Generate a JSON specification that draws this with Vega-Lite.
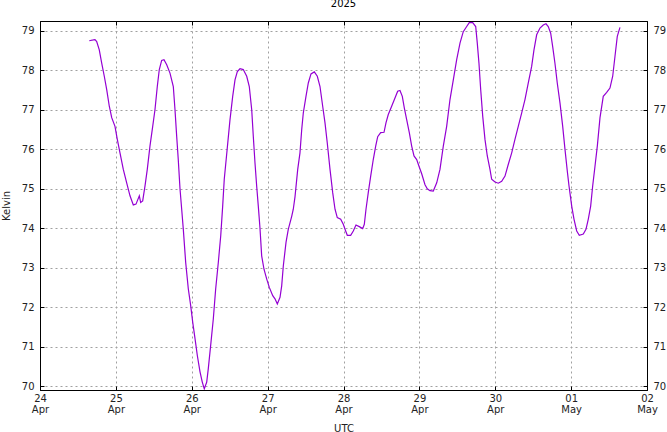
{
  "$schema": "https://vega.github.io/schema/vega-lite/v6.json",
  "width": 607,
  "height": 369,
  "autosize": {"type": "none"},
  "padding": {"left": 40, "top": 21, "right": 20, "bottom": 42},
  "background": "white",
  "title": {"text": "2025", "fontSize": 10, "font": "DejaVu Sans", "fontWeight": "normal", "color": "#000000", "offset": 12, "anchor": "middle"},
  "config": {
    "view": {"stroke": "#000000", "strokeWidth": 1},
    "font": "DejaVu Sans",
    "axis": {"labelFont": "DejaVu Sans", "labelFontSize": 10, "labelColor": "#222222", "titleFont": "DejaVu Sans", "titleFontSize": 10, "titleFontWeight": "normal", "titleColor": "#222222", "domainColor": "#000000", "tickColor": "#000000", "gridColor": "#a0a0a0", "gridDash": [2, 3], "gridWidth": 1, "gridOpacity": 1}
  },
  "data": {"values": [
    {"t": "2025-04-24T15:35Z", "k": 78.75}, {"t": "2025-04-24T16:52Z", "k": 78.77}, {"t": "2025-04-24T17:24Z", "k": 78.78}, {"t": "2025-04-24T17:56Z", "k": 78.73},
    {"t": "2025-04-24T18:45Z", "k": 78.52}, {"t": "2025-04-24T19:31Z", "k": 78.18}, {"t": "2025-04-24T20:20Z", "k": 77.85}, {"t": "2025-04-24T21:06Z", "k": 77.51},
    {"t": "2025-04-24T21:55Z", "k": 77.09}, {"t": "2025-04-24T22:41Z", "k": 76.8}, {"t": "2025-04-24T23:43Z", "k": 76.58}, {"t": "2025-04-25T00:27Z", "k": 76.25},
    {"t": "2025-04-25T01:18Z", "k": 75.91}, {"t": "2025-04-25T02:21Z", "k": 75.49}, {"t": "2025-04-25T03:25Z", "k": 75.15}, {"t": "2025-04-25T04:28Z", "k": 74.82},
    {"t": "2025-04-25T05:31Z", "k": 74.59}, {"t": "2025-04-25T06:22Z", "k": 74.61}, {"t": "2025-04-25T07:25Z", "k": 74.82}, {"t": "2025-04-25T07:51Z", "k": 74.65},
    {"t": "2025-04-25T08:29Z", "k": 74.69}, {"t": "2025-04-25T09:13Z", "k": 75.07}, {"t": "2025-04-25T09:56Z", "k": 75.49}, {"t": "2025-04-25T10:47Z", "k": 76.08},
    {"t": "2025-04-25T11:39Z", "k": 76.58}, {"t": "2025-04-25T12:22Z", "k": 77.0}, {"t": "2025-04-25T13:06Z", "k": 77.59}, {"t": "2025-04-25T13:44Z", "k": 78.02},
    {"t": "2025-04-25T14:29Z", "k": 78.25}, {"t": "2025-04-25T15:13Z", "k": 78.27}, {"t": "2025-04-25T16:05Z", "k": 78.14}, {"t": "2025-04-25T17:07Z", "k": 77.93},
    {"t": "2025-04-25T18:10Z", "k": 77.59}, {"t": "2025-04-25T18:42Z", "k": 77.0}, {"t": "2025-04-25T19:14Z", "k": 76.33}, {"t": "2025-04-25T19:44Z", "k": 75.74},
    {"t": "2025-04-25T20:17Z", "k": 75.0}, {"t": "2025-04-25T20:49Z", "k": 74.48}, {"t": "2025-04-25T21:20Z", "k": 73.97}, {"t": "2025-04-25T22:05Z", "k": 73.13},
    {"t": "2025-04-25T22:55Z", "k": 72.46}, {"t": "2025-04-25T23:40Z", "k": 72.04}, {"t": "2025-04-26T00:18Z", "k": 71.62}, {"t": "2025-04-26T01:02Z", "k": 71.2},
    {"t": "2025-04-26T01:45Z", "k": 70.78}, {"t": "2025-04-26T02:37Z", "k": 70.36}, {"t": "2025-04-26T03:20Z", "k": 70.1}, {"t": "2025-04-26T03:58Z", "k": 69.93},
    {"t": "2025-04-26T04:44Z", "k": 70.1}, {"t": "2025-04-26T05:14Z", "k": 70.44}, {"t": "2025-04-26T05:59Z", "k": 71.03}, {"t": "2025-04-26T06:49Z", "k": 71.7},
    {"t": "2025-04-26T07:34Z", "k": 72.46}, {"t": "2025-04-26T08:24Z", "k": 73.13}, {"t": "2025-04-26T09:10Z", "k": 73.81}, {"t": "2025-04-26T09:47Z", "k": 74.56},
    {"t": "2025-04-26T10:17Z", "k": 75.24}, {"t": "2025-04-26T11:12Z", "k": 76.0}, {"t": "2025-04-26T12:06Z", "k": 76.75}, {"t": "2025-04-26T12:57Z", "k": 77.34},
    {"t": "2025-04-26T13:41Z", "k": 77.76}, {"t": "2025-04-26T14:25Z", "k": 77.97}, {"t": "2025-04-26T15:16Z", "k": 78.04}, {"t": "2025-04-26T16:18Z", "k": 78.02},
    {"t": "2025-04-26T17:23Z", "k": 77.85}, {"t": "2025-04-26T18:12Z", "k": 77.59}, {"t": "2025-04-26T18:58Z", "k": 77.0}, {"t": "2025-04-26T19:28Z", "k": 76.33},
    {"t": "2025-04-26T20:00Z", "k": 75.66}, {"t": "2025-04-26T20:32Z", "k": 75.07}, {"t": "2025-04-26T21:03Z", "k": 74.56}, {"t": "2025-04-26T21:35Z", "k": 74.0},
    {"t": "2025-04-26T22:07Z", "k": 73.3}, {"t": "2025-04-26T22:51Z", "k": 72.96}, {"t": "2025-04-26T23:43Z", "k": 72.71}, {"t": "2025-04-27T00:32Z", "k": 72.5},
    {"t": "2025-04-27T01:37Z", "k": 72.29}, {"t": "2025-04-27T02:20Z", "k": 72.21}, {"t": "2025-04-27T03:04Z", "k": 72.08}, {"t": "2025-04-27T03:55Z", "k": 72.25},
    {"t": "2025-04-27T04:27Z", "k": 72.54}, {"t": "2025-04-27T04:58Z", "k": 73.05}, {"t": "2025-04-27T05:49Z", "k": 73.64}, {"t": "2025-04-27T06:32Z", "k": 73.97},
    {"t": "2025-04-27T07:37Z", "k": 74.3}, {"t": "2025-04-27T08:07Z", "k": 74.48}, {"t": "2025-04-27T08:40Z", "k": 74.8}, {"t": "2025-04-27T09:31Z", "k": 75.49},
    {"t": "2025-04-27T10:14Z", "k": 75.91}, {"t": "2025-04-27T10:47Z", "k": 76.5}, {"t": "2025-04-27T11:17Z", "k": 76.92}, {"t": "2025-04-27T12:08Z", "k": 77.34},
    {"t": "2025-04-27T12:52Z", "k": 77.68}, {"t": "2025-04-27T13:43Z", "k": 77.91}, {"t": "2025-04-27T14:46Z", "k": 77.96}, {"t": "2025-04-27T15:43Z", "k": 77.85},
    {"t": "2025-04-27T16:34Z", "k": 77.59}, {"t": "2025-04-27T17:25Z", "k": 77.09}, {"t": "2025-04-27T18:09Z", "k": 76.67}, {"t": "2025-04-27T18:52Z", "k": 76.16},
    {"t": "2025-04-27T19:44Z", "k": 75.49}, {"t": "2025-04-27T20:35Z", "k": 74.9}, {"t": "2025-04-27T21:19Z", "k": 74.48}, {"t": "2025-04-27T22:02Z", "k": 74.27},
    {"t": "2025-04-27T23:07Z", "k": 74.23}, {"t": "2025-04-27T23:56Z", "k": 74.1}, {"t": "2025-04-28T00:41Z", "k": 73.93}, {"t": "2025-04-28T01:12Z", "k": 73.82},
    {"t": "2025-04-28T02:16Z", "k": 73.82}, {"t": "2025-04-28T03:06Z", "k": 73.93}, {"t": "2025-04-28T03:57Z", "k": 74.08}, {"t": "2025-04-28T04:59Z", "k": 74.04},
    {"t": "2025-04-28T06:04Z", "k": 73.99}, {"t": "2025-04-28T06:35Z", "k": 74.1}, {"t": "2025-04-28T07:07Z", "k": 74.48}, {"t": "2025-04-28T07:50Z", "k": 74.9},
    {"t": "2025-04-28T08:36Z", "k": 75.32}, {"t": "2025-04-28T09:25Z", "k": 75.74}, {"t": "2025-04-28T10:11Z", "k": 76.08}, {"t": "2025-04-28T10:49Z", "k": 76.32},
    {"t": "2025-04-28T11:46Z", "k": 76.42}, {"t": "2025-04-28T12:49Z", "k": 76.43}, {"t": "2025-04-28T13:26Z", "k": 76.67}, {"t": "2025-04-28T14:10Z", "k": 76.88},
    {"t": "2025-04-28T15:14Z", "k": 77.09}, {"t": "2025-04-28T16:17Z", "k": 77.3}, {"t": "2025-04-28T17:08Z", "k": 77.47}, {"t": "2025-04-28T17:52Z", "k": 77.49},
    {"t": "2025-04-28T18:36Z", "k": 77.34}, {"t": "2025-04-28T19:14Z", "k": 77.05}, {"t": "2025-04-28T19:59Z", "k": 76.75}, {"t": "2025-04-28T20:49Z", "k": 76.42},
    {"t": "2025-04-28T21:34Z", "k": 76.08}, {"t": "2025-04-28T22:18Z", "k": 75.83}, {"t": "2025-04-28T23:09Z", "k": 75.74}, {"t": "2025-04-28T23:58Z", "k": 75.55},
    {"t": "2025-04-29T00:44Z", "k": 75.38}, {"t": "2025-04-29T01:47Z", "k": 75.1}, {"t": "2025-04-29T02:30Z", "k": 75.0}, {"t": "2025-04-29T03:21Z", "k": 74.95},
    {"t": "2025-04-29T04:24Z", "k": 74.94}, {"t": "2025-04-29T05:29Z", "k": 75.15}, {"t": "2025-04-29T06:31Z", "k": 75.49}, {"t": "2025-04-29T07:34Z", "k": 76.08},
    {"t": "2025-04-29T08:38Z", "k": 76.58}, {"t": "2025-04-29T09:41Z", "k": 77.26}, {"t": "2025-04-29T10:44Z", "k": 77.76}, {"t": "2025-04-29T11:48Z", "k": 78.27},
    {"t": "2025-04-29T12:51Z", "k": 78.69}, {"t": "2025-04-29T13:53Z", "k": 78.98}, {"t": "2025-04-29T14:58Z", "k": 79.11}, {"t": "2025-04-29T15:47Z", "k": 79.21},
    {"t": "2025-04-29T16:52Z", "k": 79.21}, {"t": "2025-04-29T17:49Z", "k": 79.11}, {"t": "2025-04-29T18:19Z", "k": 78.69}, {"t": "2025-04-29T18:51Z", "k": 78.18},
    {"t": "2025-04-29T19:24Z", "k": 77.51}, {"t": "2025-04-29T20:02Z", "k": 76.84}, {"t": "2025-04-29T20:45Z", "k": 76.25}, {"t": "2025-04-29T21:29Z", "k": 75.83},
    {"t": "2025-04-29T22:20Z", "k": 75.49}, {"t": "2025-04-29T22:52Z", "k": 75.24}, {"t": "2025-04-29T23:55Z", "k": 75.17}, {"t": "2025-04-30T00:58Z", "k": 75.14},
    {"t": "2025-04-30T02:02Z", "k": 75.19}, {"t": "2025-04-30T03:05Z", "k": 75.32}, {"t": "2025-04-30T04:08Z", "k": 75.62}, {"t": "2025-04-30T05:12Z", "k": 75.91},
    {"t": "2025-04-30T06:14Z", "k": 76.25}, {"t": "2025-04-30T07:17Z", "k": 76.58}, {"t": "2025-04-30T08:22Z", "k": 76.92}, {"t": "2025-04-30T09:24Z", "k": 77.26},
    {"t": "2025-04-30T10:27Z", "k": 77.68}, {"t": "2025-04-30T11:31Z", "k": 78.1}, {"t": "2025-04-30T12:15Z", "k": 78.52}, {"t": "2025-04-30T13:06Z", "k": 78.9},
    {"t": "2025-04-30T14:09Z", "k": 79.07}, {"t": "2025-04-30T15:11Z", "k": 79.15}, {"t": "2025-04-30T16:03Z", "k": 79.18}, {"t": "2025-04-30T16:46Z", "k": 79.11},
    {"t": "2025-04-30T17:32Z", "k": 78.94}, {"t": "2025-04-30T18:10Z", "k": 78.6}, {"t": "2025-04-30T18:53Z", "k": 78.18}, {"t": "2025-04-30T19:37Z", "k": 77.68},
    {"t": "2025-04-30T20:29Z", "k": 77.17}, {"t": "2025-04-30T21:20Z", "k": 76.58}, {"t": "2025-04-30T22:04Z", "k": 75.99}, {"t": "2025-04-30T22:47Z", "k": 75.45},
    {"t": "2025-04-30T23:20Z", "k": 75.07}, {"t": "2025-05-01T00:11Z", "k": 74.56}, {"t": "2025-05-01T00:54Z", "k": 74.23}, {"t": "2025-05-01T01:46Z", "k": 73.93},
    {"t": "2025-05-01T02:35Z", "k": 73.82}, {"t": "2025-05-01T03:51Z", "k": 73.85}, {"t": "2025-05-01T04:42Z", "k": 73.97}, {"t": "2025-05-01T05:26Z", "k": 74.23},
    {"t": "2025-05-01T06:11Z", "k": 74.56}, {"t": "2025-05-01T06:49Z", "k": 75.07}, {"t": "2025-05-01T07:33Z", "k": 75.57}, {"t": "2025-05-01T08:17Z", "k": 76.08},
    {"t": "2025-05-01T09:08Z", "k": 76.8}, {"t": "2025-05-01T10:10Z", "k": 77.34}, {"t": "2025-05-01T11:15Z", "k": 77.44}, {"t": "2025-05-01T12:17Z", "k": 77.55},
    {"t": "2025-05-01T13:09Z", "k": 77.85}, {"t": "2025-05-01T13:52Z", "k": 78.35}, {"t": "2025-05-01T14:36Z", "k": 78.86}, {"t": "2025-05-01T15:27Z", "k": 79.09}
  ]},
  "layer": [
    {
      "mark": {"type": "line", "color": "#9400d3", "strokeWidth": 1.2, "clip": true},
      "encoding": {
        "x": {"field": "t", "type": "temporal",
          "scale": {"type": "utc", "domain": [{"year": 2025, "month": 4, "date": 24, "utc": true}, {"year": 2025, "month": 5, "date": 2, "utc": true}], "nice": false},
          "axis": {"orient": "bottom", "title": "UTC", "titleX": 303.5, "titleY": 38, "titleBaseline": "middle",
            "tickCount": {"interval": "day", "step": 1}, "grid": true, "domain": true, "tickSize": -4, "labelPadding": 7,
            "labelExpr": "[utcFormat(datum.value, '%d'), utcFormat(datum.value, '%b')]", "labelLineHeight": 11, "labelBaseline": "top", "labelFlush": false, "labelOverlap": false}},
        "y": {"field": "k", "type": "quantitative",
          "scale": {"domain": [69.9, 79.25], "nice": false, "zero": false},
          "axis": {"orient": "left", "title": "Kelvin", "titleX": -34, "titleY": 184.5, "titleBaseline": "middle", "titleAngle": -90,
            "values": [70, 71, 72, 73, 74, 75, 76, 77, 78, 79], "grid": true, "tickSize": -4, "labelPadding": 10}}
      }
    },
    {
      "mark": {"type": "line", "opacity": 0},
      "encoding": {
        "x": {"field": "t", "type": "temporal",
          "axis": {"orient": "top", "title": null, "labels": false, "grid": false, "tickCount": {"interval": "day", "step": 1}, "tickSize": -4}},
        "y": {"field": "k", "type": "quantitative",
          "axis": {"orient": "right", "title": null, "values": [70, 71, 72, 73, 74, 75, 76, 77, 78, 79], "grid": false, "tickSize": -4, "labelPadding": 10}}
      }
    }
  ],
  "resolve": {"axis": {"x": "independent", "y": "independent"}}
}
